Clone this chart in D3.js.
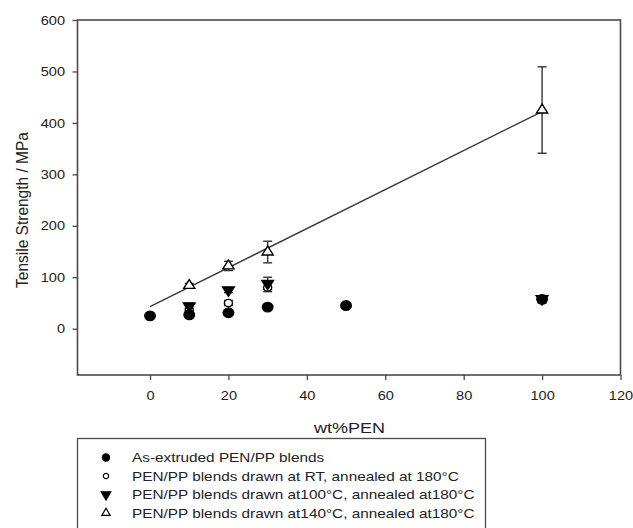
<!DOCTYPE html>
<html>
<head>
<meta charset="utf-8">
<script src="https://cdn.jsdelivr.net/npm/d3@7"></script>
<style>
  html, body { margin: 0; padding: 0; background: #fff; }
  svg text { font-family: "Liberation Sans", Arial, sans-serif; fill: #222; }
</style>
</head>
<body>
<svg id="chart" width="633" height="528"></svg>
<script>
// ---- data ----
const xTicks = [0, 20, 40, 60, 80, 100, 120];
const yTicks = [0, 100, 200, 300, 400, 500, 600];

const xAsExtruded = [0, 10, 20, 30, 50, 100];
const yAsExtruded = [25, 27, 31, 42, 45, 57];
const eAsExtruded = [2, 3, 2, 2, 3, 7];

const xDrawnRT = [10, 20, 30];
const yDrawnRT = [36, 50, 80];
const eDrawnRT = [4, 5, 8];

const xDrawn100 = [10, 20, 30, 100];
const yDrawn100 = [44, 75, 88, 58];
const eDrawn100 = [6, 5, 12, 6];

const xDrawn140 = [10, 20, 30, 100];
const yDrawn140 = [84, 122, 149, 425];
const eDrawn140 = [4, 9, 21, 84];

const fitX = [0, 100];
const fitY = [43, 422];

const legendLabels = [
  "As-extruded PEN/PP blends",
  "PEN/PP blends drawn at RT, annealed at 180\u00B0C",
  "PEN/PP blends drawn at100\u00B0C, annealed at180\u00B0C",
  "PEN/PP blends drawn at140\u00B0C, annealed at180\u00B0C"
];

// ---- layout ----
const svg = d3.select("#chart");
const L = 77.5, R = 620.5, T = 20, B = 375;
const x = d3.scaleLinear().domain([-18.5, 120]).range([L, R]);
const y = d3.scaleLinear().domain([-90, 600]).range([B, T]);
const axisColor = "#4a4a4a";
const SX = 1.12; // horizontal text stretch seen in the reference

// frame
svg.append("rect").attr("x", L).attr("y", T).attr("width", R - L).attr("height", B - T)
  .attr("fill", "none").attr("stroke", axisColor).attr("stroke-width", 1.6);

// axes
const gx = svg.append("g").attr("transform", `translate(0,${B})`)
  .call(d3.axisBottom(x).tickValues(xTicks).tickSize(5).tickPadding(11).tickFormat(d3.format("d")));
const gy = svg.append("g").attr("transform", `translate(${L},0)`)
  .call(d3.axisLeft(y).tickValues(yTicks).tickSize(5).tickFormat(d3.format("d")));
[gx, gy].forEach(g => {
  g.select(".domain").remove();
  g.selectAll(".tick line").attr("stroke", axisColor).attr("stroke-width", 1.3);
  g.selectAll(".tick text").style("font-size", "13px").attr("fill", "#222")
    .style("font-family", "'Liberation Sans', Arial, sans-serif")
    .attr("transform", `scale(${SX},1)`);
});
gy.selectAll(".tick text").attr("x", -12.5 / SX);

// axis titles
svg.append("text").attr("transform", `translate(349.5,432.5) scale(1.2,1)`)
  .attr("text-anchor", "middle").style("font-size", "15px").text("wt%PEN");
svg.append("text").attr("transform", `translate(28,210) scale(1.12,1) rotate(-90)`)
  .attr("text-anchor", "middle").style("font-size", "15.5px").text("Tensile Strength / MPa");

// fit line
svg.append("line")
  .attr("x1", x(fitX[0])).attr("y1", y(fitY[0]))
  .attr("x2", x(fitX[1])).attr("y2", y(fitY[1]))
  .attr("stroke", "#3a3a3a").attr("stroke-width", 1.4);

// error bars
function errorBars(xs, ys, es) {
  const g = svg.append("g").attr("stroke", "#333").attr("stroke-width", 1.4);
  xs.forEach((xv, i) => {
    const cx = x(xv), y1 = y(ys[i] + es[i]), y2 = y(ys[i] - es[i]);
    g.append("line").attr("x1", cx).attr("x2", cx).attr("y1", y1).attr("y2", y2);
    g.append("line").attr("x1", cx - 4.5).attr("x2", cx + 4.5).attr("y1", y1).attr("y2", y1);
    g.append("line").attr("x1", cx - 4.5).attr("x2", cx + 4.5).attr("y1", y2).attr("y2", y2);
  });
}
errorBars(xDrawn140, yDrawn140, eDrawn140);
errorBars(xDrawn100, yDrawn100, eDrawn100);
errorBars(xDrawnRT, yDrawnRT, eDrawnRT);
errorBars(xAsExtruded, yAsExtruded, eAsExtruded);

// markers
const styles = [
  { type: d3.symbolCircle, size: 72, fill: "#000", stroke: "#000", rot: 0 },
  { type: d3.symbolCircle, size: 42, fill: "#fff", stroke: "#000", rot: 0 },
  { type: d3.symbolTriangle, size: 50, fill: "#000", stroke: "#000", rot: 180 },
  { type: d3.symbolTriangle, size: 45, fill: "#fff", stroke: "#000", rot: 0 }
];
function markers(xs, ys, st) {
  const sym = d3.symbol().type(st.type).size(st.size);
  svg.append("g").selectAll("path").data(xs).join("path")
    .attr("d", sym)
    .attr("transform", (d, i) => `translate(${x(d)},${y(ys[i])}) scale(1.1,1) rotate(${st.rot})`)
    .attr("fill", st.fill).attr("stroke", st.stroke).attr("stroke-width", 1.3);
}
markers(xDrawn140, yDrawn140, styles[3]);
markers(xDrawnRT, yDrawnRT, styles[1]);
markers(xDrawn100, yDrawn100, styles[2]);
markers(xAsExtruded, yAsExtruded, styles[0]);

// legend
const lg = svg.append("g");
lg.append("rect").attr("x", 77.5).attr("y", 438.5).attr("width", 408).attr("height", 110)
  .attr("fill", "#fff").attr("stroke", axisColor).attr("stroke-width", 1.3);
const legendSizes = [40, 22, 40, 30];
legendLabels.forEach((lab, i) => {
  const cy = 457.5 + i * 18.5;
  const st = styles[i];
  lg.append("path")
    .attr("d", d3.symbol().type(st.type).size(legendSizes[i]))
    .attr("transform", `translate(106,${cy}) rotate(${st.rot})`)
    .attr("fill", st.fill).attr("stroke", st.stroke).attr("stroke-width", 1.2);
  lg.append("text").attr("transform", `translate(132,${cy}) scale(1.18,1)`).attr("dy", "0.35em")
    .style("font-size", "13px").text(lab);
});
</script>
</body>
</html>
